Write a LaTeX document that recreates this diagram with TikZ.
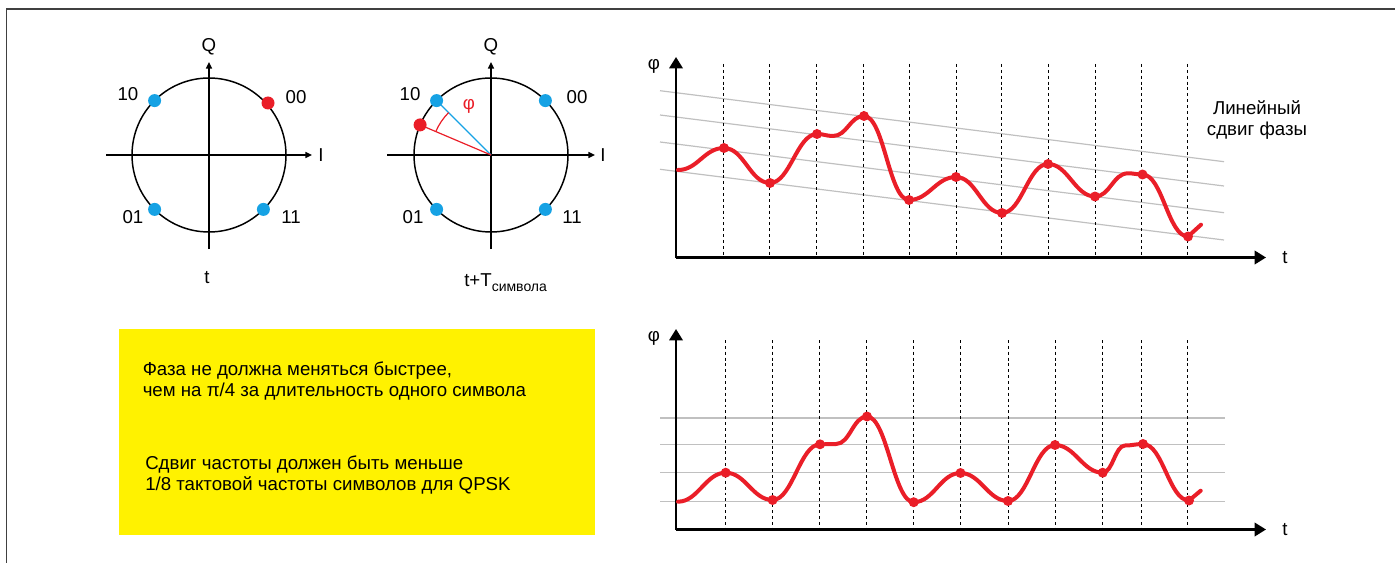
\documentclass[tikz,border=0pt]{standalone}
\usepackage{fontspec}
\setmainfont{Liberation Sans}
\usetikzlibrary{arrows.meta}
\definecolor{myred}{RGB}{234,30,40}
\definecolor{myblue}{RGB}{22,162,228}
\definecolor{myyellow}{RGB}{255,242,0}
\definecolor{gridgrey}{RGB}{192,192,192}
\begin{document}
\begin{tikzpicture}[x=0.75pt,y=-0.75pt,
  frameline/.style={draw=black!75, line width=1.2pt},
  circ/.style={line width=1.1pt},
  ax/.style={line width=1.1pt, -{Triangle[length=5pt,width=4.5pt]}},
  gax/.style={line width=1.8pt, -{Triangle[length=8.5pt,width=10pt]}},
  lbl/.style={font=\fontsize{14}{16}\selectfont, inner sep=0pt},
  txt/.style={font=\fontsize{14}{15.2}\selectfont, inner sep=0pt, align=left},
  bdot/.style={circle, fill=myblue, inner sep=0pt, minimum size=9.75pt},
  rdot/.style={circle, fill=myred, inner sep=0pt, minimum size=9.75pt},
  cdot/.style={circle, fill=myred, inner sep=0pt, minimum size=7.5pt},
  gridline/.style={draw=gridgrey, line width=0.9pt},
  vdash/.style={line width=0.75pt, dash pattern=on 2.2pt off 2.2pt},
  curve/.style={myred, line width=3pt, line cap=round, line join=round}]
\useasboundingbox (0,0) rectangle (1395,563);
% frame
\draw[frameline] (6.5,563) -- (6.5,9) -- (1395,9);

% ---------- left constellation ----------
\coordinate (c1) at (209,155);
\draw[circ] (c1) circle[radius=57.75pt];
\draw[ax] (106,155) -- (312,155);
\draw[ax] (209,249) -- (209,62);
\node[lbl] (q1) at (209,47) {Q};
\node[lbl] (i1) at (321,155) {I};
\node[bdot] (l10) at (154.6,100.6) {};
\node[rdot] (l00) at (268,103) {};
\node[bdot] (l01) at (154.6,209.4) {};
\node[bdot] (l11) at (263.4,209.4) {};
\node[lbl] (tl10) at (128,94) {10};
\node[lbl] (tl00) at (296,97) {00};
\node[lbl] (tl01) at (133,217) {01};
\node[lbl] (tl11) at (291,217) {11};
\node[lbl] (tt) at (207,278) {t};

% ---------- right constellation ----------
\coordinate (c2) at (491,155);
\draw[circ] (c2) circle[radius=57.75pt];
\draw[ax] (387,155) -- (595,155);
\draw[ax] (491,249) -- (491,62);
\node[lbl] (q2) at (491,47) {Q};
\node[lbl] (i2) at (603,155) {I};
\node[bdot] (r10) at (436.6,100.6) {};
\node[bdot] (r00) at (545.4,100.6) {};
\node[bdot] (r01) at (436.6,209.4) {};
\node[bdot] (r11) at (545.4,209.4) {};
\node[rdot] (rr) at (420.1,124.9) {};
\draw[myblue, line width=0.9pt] (c2) -- (r10.center);
\draw[myred, line width=0.9pt] (c2) -- (rr.center);
\draw[myred, line width=0.9pt] (448.6,112.6) arc[start angle=135, end angle=157, radius=45pt];
\node[lbl, text=myred] (phi0) at (469,106) {φ};
\node[lbl] (tr10) at (410,94) {10};
\node[lbl] (tr00) at (577,97) {00};
\node[lbl] (tr01) at (413,217) {01};
\node[lbl] (tr11) at (572,217) {11};
\node[lbl, anchor=base west] (tts) at (464,286.5) {t+T\raisebox{-0.55ex}{\fontsize{10.5}{12}\selectfont символа}};

% ---------- top graph ----------
\foreach \y/\z in {90.7/161.7, 115/186, 142/212.7, 169.3/240}
  \draw[gridline] (660,\y) -- (1224,\z);
\foreach \x in {723.9,769.9,816.3,863.2,909.2,956.1,1001.6,1048.5,1095.2,1141.8,1187.5}
  \draw[vdash] (\x,64) -- (\x,257.5);
\coordinate (o1) at (676,257.5);
\draw[gax] (o1) -- (1266,257.5);
\draw[gax] (o1) -- (676,57);
\node[lbl] (phi1) at (654,66) {φ};
\node[lbl] (t1l) at (1285,258) {t};
\node[lbl, align=center, font=\fontsize{14}{15.5}\selectfont] (lin) at (1257,120) {Линейный\\сдвиг фазы};

\coordinate (t0) at (678,170);
\coordinate (t1) at (724,148);
\coordinate (t2) at (770,183);
\coordinate (t3) at (817,134);
\coordinate (tp1) at (833,136);
\coordinate (t4) at (864,116);
\coordinate (t5) at (909,200);
\coordinate (t6) at (956,177);
\coordinate (t7) at (1002,213);
\coordinate (t8) at (1048,164);
\coordinate (t9) at (1095,196.5);
\coordinate (tp2) at (1128,173.3);
\coordinate (t10) at (1142.5,174.5);
\coordinate (t11) at (1188,236.5);
\coordinate (te) at (1201,224.7);
\draw[curve] (t0) .. controls +(20,0) and +(-20,0) .. (t1)
  .. controls +(20,0) and +(-20,0) .. (t2)
  .. controls +(20,0) and +(-20,0) .. (t3)
  .. controls +(7,0) and +(-7,0) .. (tp1)
  .. controls +(14,0) and +(-14,0) .. (t4)
  .. controls +(20,0) and +(-20,0) .. (t5)
  .. controls +(20,0) and +(-20,0) .. (t6)
  .. controls +(20,0) and +(-20,0) .. (t7)
  .. controls +(20,0) and +(-20,0) .. (t8)
  .. controls +(20,0) and +(-20,0) .. (t9)
  .. controls +(15,0) and +(-15,0) .. (tp2)
  .. controls +(6,0) and +(-6,0) .. (t10)
  .. controls +(20,0) and +(-20,0) .. (t11) -- (te);
\foreach \p in {t1,t2,t3,t4,t5,t6,t7,t8,t9,t10,t11}
  \node[cdot] at (\p) {};

% ---------- bottom graph ----------
\foreach \y in {418,444.3,472.7,501.7}
  \draw[gridline] (660,\y) -- (1225,\y);
\foreach \x in {725.7,772.6,819.9,866.3,913.7,960.5,1008.3,1055,1102.7,1141.7,1187.3}
  \draw[vdash] (\x,340) -- (\x,529.5);
\coordinate (o2) at (676,529.5);
\draw[gax] (o2) -- (1266,529.5);
\draw[gax] (o2) -- (676,329);
\node[lbl] (phi2) at (654,338) {φ};
\node[lbl] (t2l) at (1285,530) {t};

\coordinate (b0) at (678,501.7);
\coordinate (b1) at (725.7,472.7);
\coordinate (b2) at (772.6,500);
\coordinate (b3) at (820,444.3);
\coordinate (bp1) at (836,444);
\coordinate (b4) at (867,416.5);
\coordinate (b5) at (913.7,502.2);
\coordinate (b6) at (960.5,473);
\coordinate (b7) at (1008,501);
\coordinate (b8) at (1055,445);
\coordinate (b9) at (1102.7,472.7);
\coordinate (bp2) at (1125,445.5);
\coordinate (b10) at (1143,444);
\coordinate (b11) at (1189,500.5);
\coordinate (be) at (1200.7,490.7);
\draw[curve] (b0) .. controls +(20,0) and +(-20,0) .. (b1)
  .. controls +(20,0) and +(-20,0) .. (b2)
  .. controls +(20,0) and +(-20,0) .. (b3)
  .. controls +(7,0) and +(-7,0) .. (bp1)
  .. controls +(14,0) and +(-14,0) .. (b4)
  .. controls +(20,0) and +(-20,0) .. (b5)
  .. controls +(20,0) and +(-20,0) .. (b6)
  .. controls +(20,0) and +(-20,0) .. (b7)
  .. controls +(20,0) and +(-20,0) .. (b8)
  .. controls +(20,0) and +(-20,0) .. (b9)
  .. controls +(10,0) and +(-10,0) .. (bp2)
  .. controls +(7,0) and +(-7,0) .. (b10)
  .. controls +(20,0) and +(-20,0) .. (b11) -- (be);
\foreach \p in {b1,b2,b3,b4,b5,b6,b7,b8,b9,b10,b11}
  \node[cdot] at (\p) {};

% ---------- yellow box ----------
\fill[myyellow] (119,329) rectangle (595,535);
\node[txt, anchor=west] (n1) at (142.5,381) {Фаза не должна меняться быстрее,\\чем на π/4 за длительность одного символа};
\node[txt, anchor=west] (n2) at (145,475) {Сдвиг частоты должен быть меньше\\1/8 тактовой частоты символов для QPSK};
\end{tikzpicture}
\end{document}
